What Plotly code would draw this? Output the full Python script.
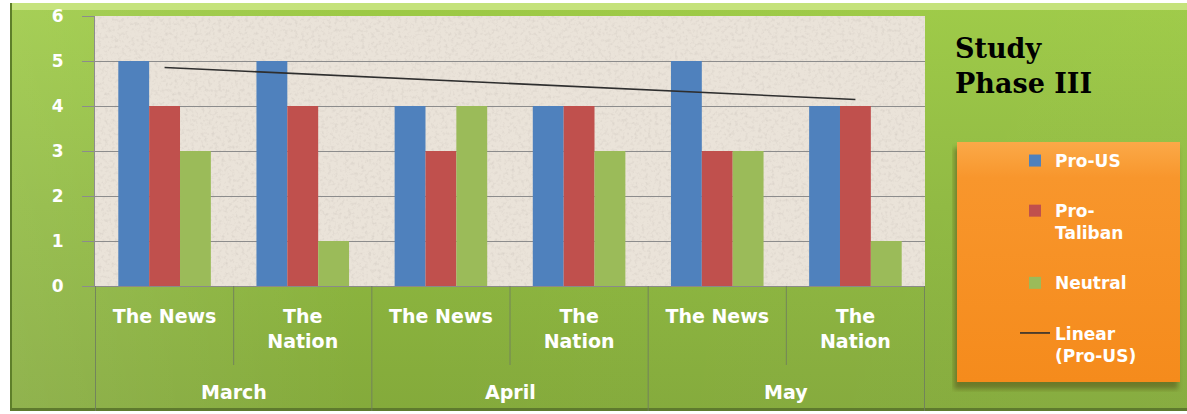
import base64
import numpy as np
import plotly.graph_objects as go

# ---------------- data ----------------
months = ["March", "March", "April", "April", "May", "May"]
papers = ["The News", "The Nation", "The News", "The Nation", "The News", "The Nation"]
paper_labels = ["The News", "The<br>Nation", "The News", "The<br>Nation", "The News", "The<br>Nation"]
pro_us = [5, 5, 4, 4, 5, 4]
pro_taliban = [4, 4, 3, 4, 3, 4]
neutral = [3, 1, 4, 3, 3, 1]
series_names = ["Pro-US", "Pro-<br>Taliban", "Neutral"]
trend_name = "Linear<br>(Pro-US)"
title_text = "Study<br>Phase III"
y_ticks = [0, 1, 2, 3, 4, 5, 6]

cats = [f"{m} | {p}" for m, p in zip(months, papers)]

# linear trendline (least squares) of Pro-US
idx = np.arange(len(pro_us))
slope, intercept = np.polyfit(idx, pro_us, 1)
trend_y = [float(intercept + slope * idx[0]), float(intercept + slope * idx[-1])]
trend_x = [cats[0], cats[-1]]

# ---------------- styling ----------------
BLUE, RED, GREEN = "#4F81BD", "#C0504D", "#9BBB59"
W, H = 1187, 414
L, R, T, B = 95, 262, 16, 128
PW, PH = W - L - R, H - T - B


def px_x(px):
    return (px - L) / PW


def px_y(py):
    return (H - B - py) / PH


def svg_uri(svg):
    return "data:image/svg+xml;base64," + base64.b64encode(svg.encode()).decode()


frame_svg = """<svg xmlns='http://www.w3.org/2000/svg' width='1177' height='408' viewBox='0 0 1177 408' preserveAspectRatio='none'>
<defs><linearGradient id='g' x1='0' y1='0' x2='0' y2='1'>
<stop offset='0' stop-color='#9DCA45'/><stop offset='0.5' stop-color='#8FB940'/><stop offset='1' stop-color='#84AA3B'/></linearGradient>
<linearGradient id='h' x1='0' y1='0' x2='1' y2='0'>
<stop offset='0' stop-color='#ffffff' stop-opacity='0.10'/><stop offset='0.3' stop-color='#ffffff' stop-opacity='0'/><stop offset='1' stop-color='#ffffff' stop-opacity='0.03'/></linearGradient></defs>
<rect width='1177' height='408' fill='url(#g)'/>
<rect width='1177' height='408' fill='url(#h)'/>
<rect x='0' y='0' width='1177' height='7' fill='#CBE685' opacity='0.85'/>
<rect x='0' y='0' width='2' height='408' fill='#5E7F2A'/>
<rect x='0' y='405' width='1177' height='3' fill='#5E7A2E'/>
</svg>"""

plot_svg = """<svg xmlns='http://www.w3.org/2000/svg' width='830' height='270' viewBox='0 0 830 270' preserveAspectRatio='none'>
<defs><filter id='f' x='0' y='0' width='100%' height='100%'>
<feTurbulence type='fractalNoise' baseFrequency='0.3' numOctaves='3' seed='7'/>
<feColorMatrix type='matrix' values='0 0 0 0 0.6  0 0 0 0 0.55  0 0 0 0 0.5  0 0 0 2.4 -1.15'/></filter></defs>
<rect width='830' height='270' fill='#EAE3D9'/>
<rect width='830' height='270' filter='url(#f)' opacity='0.45'/>
</svg>"""

legend_svg = """<svg xmlns='http://www.w3.org/2000/svg' width='232' height='250' viewBox='0 0 232 250' preserveAspectRatio='none'>
<defs><linearGradient id='o' x1='0' y1='0' x2='0' y2='1'>
<stop offset='0' stop-color='#FBA948'/><stop offset='0.15' stop-color='#F8962C'/><stop offset='1' stop-color='#F58B1C'/></linearGradient>
<filter id='s'><feGaussianBlur stdDeviation='2.5'/></filter></defs>
<rect x='2' y='6' width='224' height='241' fill='#4a3a10' opacity='0.45' filter='url(#s)'/>
<rect x='5' y='0' width='223' height='240' fill='url(#o)'/>
</svg>"""

fig = go.Figure()

for name, vals, col in zip(series_names, [pro_us, pro_taliban, neutral], [BLUE, RED, GREEN]):
    fig.add_trace(go.Bar(x=cats, y=vals, name=name, marker=dict(color=col, line=dict(width=0)),
                         legendgroup=name))

fig.add_trace(go.Scatter(x=trend_x, y=trend_y, mode="lines", name=trend_name,
                         line=dict(color="#2E2E2E", width=1.6), legendgroup="trend"))

# category divider lines below the plot
shapes = []
bounds = [-0.5 + i for i in range(len(cats) + 1)]
for i, bx in enumerate(bounds):
    if i == 0 or i == len(cats) or months[i] != months[i - 1]:
        y1 = px_y(411)
    else:
        y1 = px_y(365)
    shapes.append(dict(type="line", xref="x", yref="paper", x0=bx, x1=bx, y0=0, y1=y1,
                       line=dict(color="rgba(110,125,95,0.85)", width=1), layer="above"))

# month labels
annotations = []
month_order = []
for m in months:
    if m not in month_order:
        month_order.append(m)
for m in month_order:
    pos = [i for i, mm in enumerate(months) if mm == m]
    annotations.append(dict(x=sum(pos) / len(pos), y=px_y(392), xref="x", yref="paper",
                            text=m, showarrow=False, xanchor="center", yanchor="middle",
                            font=dict(family="DejaVu Sans", size=19, color="white", weight="bold")))

annotations.append(dict(x=px_x(953), y=px_y(66), xref="paper", yref="paper", text=title_text,
                        showarrow=False, xanchor="left", yanchor="middle", align="left",
                        font=dict(family="DejaVu Serif", size=27, color="black", weight="bold")))

images = [
    dict(source=svg_uri(frame_svg), xref="paper", yref="paper", x=px_x(10), y=px_y(3),
         sizex=1177 / PW, sizey=408 / PH, xanchor="left", yanchor="top", sizing="stretch", layer="below"),
    dict(source=svg_uri(plot_svg), xref="paper", yref="paper", x=0, y=1,
         sizex=1, sizey=1, xanchor="left", yanchor="top", sizing="stretch", layer="below"),
    dict(source=svg_uri(legend_svg), xref="paper", yref="paper", x=px_x(952), y=px_y(142),
         sizex=232 / PW, sizey=250 / PH, xanchor="left", yanchor="top", sizing="stretch", layer="below"),
]

fig.update_layout(
    width=W, height=H,
    margin=dict(l=L, r=R, t=T, b=B, autoexpand=False),
    paper_bgcolor="white",
    plot_bgcolor="rgba(0,0,0,0)",
    barmode="group", bargap=0.33, bargroupgap=0,
    shapes=shapes, annotations=annotations, images=images,
    legend=dict(x=px_x(1015), y=px_y(143), xanchor="left", yanchor="top",
                bgcolor="rgba(0,0,0,0)", borderwidth=0, tracegroupgap=25, valign="top",
                traceorder="grouped",
                font=dict(family="DejaVu Sans", size=17, color="white", weight="bold")),
    showlegend=True,
)

fig.update_xaxes(type="category", categoryorder="array", categoryarray=cats,
                 tickvals=cats, ticktext=paper_labels, showgrid=False, ticks="",
                 showline=True, linecolor="#8A8A8A", linewidth=1,
                 ticklabelstandoff=13, automargin=False, fixedrange=True,
                 tickfont=dict(family="DejaVu Sans", size=19, color="white", weight="bold"))

fig.update_yaxes(range=[0, 6], tickvals=y_ticks, showgrid=True, gridcolor="#8C8C8C", gridwidth=1,
                 ticks="outside", ticklen=12, tickcolor="#8C8C8C", showline=True, linecolor="#8C8C8C",
                 zeroline=False, ticklabelstandoff=15, automargin=False, fixedrange=True,
                 tickfont=dict(family="DejaVu Sans", size=17, color="white", weight="bold"))

fig.write_html("out.html")
